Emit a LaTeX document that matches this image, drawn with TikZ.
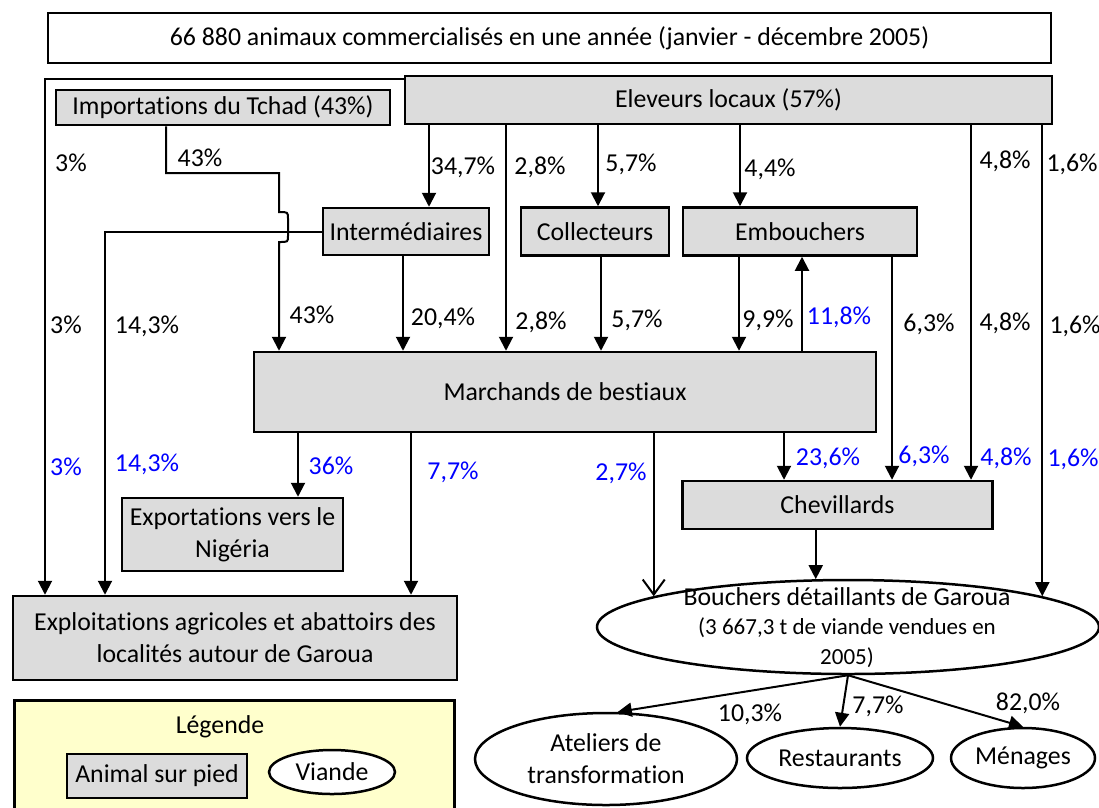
\documentclass[tikz,border=0pt]{standalone}
\usepackage{fontspec}
\setmainfont[Ligatures=NoCommon]{Carlito}
\usetikzlibrary{arrows.meta,shapes.geometric}
\definecolor{boxgray}{RGB}{220,220,220}
\definecolor{legyel}{RGB}{255,255,204}
\definecolor{pblue}{RGB}{0,0,255}
\begin{document}
\begin{tikzpicture}[x=1pt,y=-1pt,
  font=\fontsize{25.8}{32}\selectfont,
  line width=2pt,
  box/.style={draw, line width=2.5pt, fill=boxgray, inner sep=0pt, align=center},
  wbox/.style={draw, line width=2.5pt, fill=white, inner sep=0pt},
  ell/.style={draw, line width=2.5pt, ellipse, fill=white, inner sep=0pt, align=center},
  arr/.style={-{Triangle[length=14pt,width=14pt]}},
  barb/.style={-{Straight Barb[length=15pt,width=22pt,line width=2pt]}},
  lab/.style={inner sep=0pt, text height=16.6pt, text depth=0pt},
  blab/.style={lab, text=pblue},
  txt/.style={inner sep=0pt}]
\useasboundingbox (0,0) rectangle (1099,807);
\clip (0,0) rectangle (1099,807);

% ---------- boxes ----------
\node[wbox, minimum width=1003pt, minimum height=50pt] (title) at (549.5,38)
  {66 880 animaux commercialisés en une année (janvier - décembre 2005)};
\node[box, minimum width=334pt, minimum height=35pt] (import) at (223,107.5) {Importations du Tchad (43\%)};
\node[box, minimum width=647pt, minimum height=48pt] (eleveurs) at (728.5,100) {Eleveurs locaux (57\%)};
\node[box, minimum width=166pt, minimum height=47pt] (interm) at (406,231.5) {Intermédiaires};
\node[box, minimum width=148pt, minimum height=48pt] (collect) at (595,231.5) {Collecteurs};
\node[box, minimum width=234pt, minimum height=48pt] (embouch) at (800,231.5) {Embouchers};
\node[box, minimum width=622pt, minimum height=80pt] (marchands) at (565,392) {Marchands de bestiaux};
\node[box, minimum width=221pt, minimum height=73pt] (export) at (232.5,534.5) {Exportations vers le\\Nigéria};
\node[box, minimum width=444pt, minimum height=84pt] (expl) at (235,638) {Exploitations agricoles et abattoirs des\\localités autour de Garoua};
\node[box, minimum width=310pt, minimum height=48pt] (chev) at (837.5,505) {Chevillards};

% ---------- ellipses ----------
\node[ell, minimum width=502pt, minimum height=94pt] (bouchers) at (848,627) {};
\node[txt] (bt1) at (847,597) {Bouchers détaillants de Garoua};
\node[txt, font=\fontsize{23}{28}\selectfont] (bt2) at (847,628) {(3 667,3 t de viande vendues en};
\node[txt, font=\fontsize{23}{28}\selectfont] (bt3) at (847,658) {2005)};
\node[ell, minimum width=262pt, minimum height=92pt] (ateliers) at (606,759) {Ateliers de\\transformation};
\node[ell, minimum width=186pt, minimum height=60pt] (restaurants) at (840,758) {Restaurants};
\node[ell, minimum width=144pt, minimum height=60pt] (menages) at (1023,758) {Ménages};

% ---------- legend ----------
\node[draw, line width=2.5pt, fill=legyel, anchor=north west, minimum width=440pt, minimum height=140pt, inner sep=0pt] (legend) at (13,699) {};
\node[txt] (legtitle) at (220,727) {Légende};
\node[box, minimum width=180pt, minimum height=44pt] (legbox) at (157,776) {Animal sur pied};
\node[ell, minimum width=126pt, minimum height=44pt] (legell) at (332,772) {Viande};

% ---------- ellipse anchor points ----------
\coordinate (bL) at (bouchers.171.48);
\coordinate (bC) at (bouchers.124.46);
\coordinate (bR) at (bouchers.9.29);

% ---------- connectors ----------
\draw[arr] (eleveurs.west |- 0,79) -- (45,79) -- (expl.north -| 45,0);
\draw[arr] (import.south -| 166,0) -- (166,173) -- (279,173) -- (279,212)
  .. controls (288,212) .. (288,219) -- (288,236) .. controls (288,242) .. (279,242)
  -- (marchands.north -| 279,0);
\draw[arr] (interm.west) -- (interm.west -| 105,0) -- (expl.north -| 105,0);

\draw[arr] (eleveurs.south -| 429,0) -- (interm.north -| 429,0);
\draw[arr] (eleveurs.south -| 506,0) -- (marchands.north -| 506,0);
\draw[arr] (eleveurs.south -| 598,0) -- (collect.north -| 598,0);
\draw[arr] (eleveurs.south -| 740,0) -- (embouch.north -| 740,0);
\draw[arr] (eleveurs.south -| 971,0) -- (chev.north -| 971,0);
\draw[arr] (eleveurs.south -| bR) -- (bR);

\draw[arr] (interm.south -| 403,0) -- (marchands.north -| 403,0);
\draw[arr] (collect.south -| 601,0) -- (marchands.north -| 601,0);
\draw[arr] (embouch.south -| 739,0) -- (marchands.north -| 739,0);
\draw[arr] (marchands.north -| 802,0) -- (embouch.south -| 802,0);
\draw[arr] (embouch.south -| 892,0) -- (chev.north -| 892,0);

\draw[arr] (marchands.south -| 298,0) -- (export.north -| 298,0);
\draw[arr] (marchands.south -| 411,0) -- (expl.north -| 411,0);
\draw[barb] (marchands.south -| bL) -- (bL);
\draw[arr] (marchands.south -| 784,0) -- (chev.north -| 784,0);
\draw[arr] (chev.south -| bC) -- (bC);

\draw[arr] (bouchers.south) -- (ateliers.76);
\draw[arr] (bouchers.south) -- (restaurants.north);
\draw[arr] (bouchers.south) -- (menages.north);

% ---------- labels ----------
\node[lab] (l1) at (71,163) {3\%};
\node[lab] (l2) at (200,158) {43\%};
\node[lab] (l3) at (463,166) {34,7\%};
\node[lab] (l4) at (540,166) {2,8\%};
\node[lab] (l5) at (631,163) {5,7\%};
\node[lab] (l6) at (770,168) {4,4\%};
\node[lab] (l7) at (1005,160) {4,8\%};
\node[lab] (l8) at (1072,163) {1,6\%};

\node[lab] (m1) at (66,325) {3\%};
\node[lab] (m2) at (147,325) {14,3\%};
\node[lab] (m3) at (312,315) {43\%};
\node[lab] (m4) at (443,317) {20,4\%};
\node[lab] (m5) at (541,321) {2,8\%};
\node[lab] (m6) at (637,319) {5,7\%};
\node[lab] (m7) at (768,319) {9,9\%};
\node[blab] (m8) at (839,316) {11,8\%};
\node[lab] (m9) at (929,323) {6,3\%};
\node[lab] (m10) at (1005,322) {4,8\%};
\node[lab] (m11) at (1075,325) {1,6\%};

\node[blab] (b1) at (66,467) {3\%};
\node[blab] (b2) at (147,463) {14,3\%};
\node[blab] (b3) at (331,466) {36\%};
\node[blab] (b4) at (453,471) {7,7\%};
\node[blab] (b5) at (621,472) {2,7\%};
\node[blab] (b6) at (828,457) {23,6\%};
\node[blab] (b7) at (924,455) {6,3\%};
\node[blab] (b8) at (1006,457) {4,8\%};
\node[blab] (b9) at (1073,458) {1,6\%};

\node[lab] (d1) at (750,713) {10,3\%};
\node[lab] (d2) at (878,705) {7,7\%};
\node[lab] (d3) at (1028,702) {82,0\%};
\end{tikzpicture}
\end{document}
